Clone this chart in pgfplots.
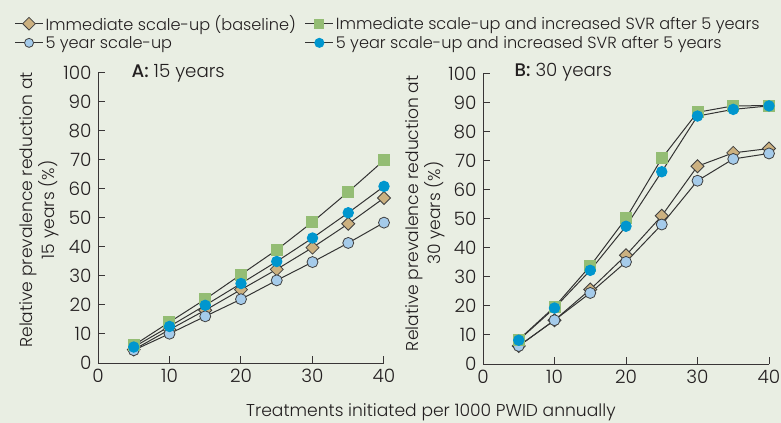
\documentclass[border=0pt]{standalone}
\usepackage{pgfplots}
\pgfplotsset{compat=1.18}
\usepackage{fontspec}
\setmainfont{Poppins}[UprightFont={* Light}, BoldFont={* Medium}]
\definecolor{bgc}{HTML}{E9EEE3}
\definecolor{sqg}{HTML}{94BD74}
\definecolor{dotb}{HTML}{0096CE}
\definecolor{tanc}{HTML}{CCB180}
\definecolor{lblue}{HTML}{A5CBEA}
\definecolor{txt}{HTML}{231F20}
\pgfplotsset{
 panel/.style={
  width=286bp, height=290bp, scale only axis,
  xmin=0,xmax=40,ymin=0,ymax=100,
  axis x line*=bottom, axis y line*=left,
  axis line style={-, line width=1bp, color=txt!90},
  xtick={0,10,...,40}, ytick={0,10,...,100},
  major tick length=7bp,
  tick style={line width=1bp, color=txt!90},
  tick label style={font=\fontsize{18.5}{18.5}\selectfont, color=txt},
  xticklabel style={yshift=-3bp}, yticklabel style={xshift=-3bp},
  /pgf/number format/assume math mode=true,
  label style={font=\fontsize{17.2}{22}\selectfont, color=txt, align=center},
  clip=false,
  legend image code/.code={\draw[mark repeat=2,mark phase=2, mark size=4.5bp] plot coordinates {(0bp,0bp)(14bp,0bp)(28bp,0bp)};},
 },
 ln/.style={line width=1bp, color=black!80},
 diam/.style={ln, mark=square*, mark size=4.6bp, mark options={rotate=45, fill=tanc, draw=black!75, line width=0.8bp}},
 circ/.style={ln, mark=*, mark size=5.5bp, mark options={fill=lblue, draw=black!75, line width=0.8bp}},
 sq/.style={ln, mark=square*, mark size=5.5bp, mark options={fill=sqg, draw=sqg}},
 dot/.style={ln, mark=*, mark size=5.2bp, mark options={fill=dotb, draw=dotb}},
}
\begin{document}
\begin{tikzpicture}
\path[use as bounding box, fill=bgc] (0bp,0bp) rectangle (781bp,423bp);
\begin{axis}[panel, at={(98bp,60bp)}, anchor=south west,
  ylabel={Relative prevalence reduction at\\15 years (\%)},
  ylabel style={at={(axis description cs:-0.206,0.528)}, anchor=center, rotate=0},
  xlabel={Treatments initiated per 1000 PWID annually},
  xlabel style={at={(axis description cs:1.164,-0.169)}, anchor=center},
  legend columns=2, transpose legend, legend cell align=left,
  legend style={draw=none, fill=none, at={(axis description cs:-0.2925,1.206)}, anchor=north west,
    font=\fontsize{16.2}{16.2}\selectfont, text=txt, inner sep=0pt,
    /tikz/every row/.append style={row sep=5bp},
    /tikz/every even column/.append style={column sep=7bp}},
 ]
\addplot[diam] coordinates {(5,4.6)(10,11.5)(15,18.2)(20,25.3)(25,32.3)(30,39.8)(35,48)(40,56.9)};
\addplot[circ] coordinates {(5,4.4)(10,10.1)(15,16.1)(20,22)(25,28.5)(30,34.8)(35,41.4)(40,48.4)};
\addplot[sq] coordinates {(5,6.1)(10,14.1)(15,22)(20,30.5)(25,39)(30,48.6)(35,59)(40,69.9)};
\addplot[dot] coordinates {(5,5.5)(10,12.6)(15,19.9)(20,27.4)(25,35)(30,43.1)(35,51.8)(40,60.9)};
\legend{Immediate scale-up (baseline),5 year scale-up,Immediate scale-up and increased SVR after 5 years,5 year scale-up and increased SVR after 5 years}
\node[anchor=base west, font=\fontsize{18.3}{18.3}\selectfont, text=txt] at (axis description cs:0.105,0.986) {\textbf{A:} 15 years};
\end{axis}
\begin{axis}[panel, at={(483bp,59bp)}, anchor=south west,
  ylabel={Relative prevalence reduction at\\30 years (\%)},
  ylabel style={at={(axis description cs:-0.203,0.52)}, anchor=center},
 ]
\addplot[diam] coordinates {(5,6.2)(10,15.1)(15,25.7)(20,37.5)(25,51.1)(30,68.2)(35,72.8)(40,74.3)};
\addplot[circ] coordinates {(5,6.2)(10,15.1)(15,24.5)(20,35.2)(25,48.1)(30,63.2)(35,70.7)(40,72.6)};
\addplot[sq] coordinates {(5,8.4)(10,19.7)(15,33.8)(20,50.2)(25,70.9)(30,86.8)(35,89)(40,89.1)};
\addplot[dot] coordinates {(5,8.2)(10,19.3)(15,32.3)(20,47.5)(25,66.3)(30,85.5)(35,87.8)(40,89)};
\node[anchor=base west, font=\fontsize{18.3}{18.3}\selectfont, text=txt] at (axis description cs:0.098,0.99) {\textbf{B:} 30 years};
\end{axis}
\end{tikzpicture}
\end{document}
